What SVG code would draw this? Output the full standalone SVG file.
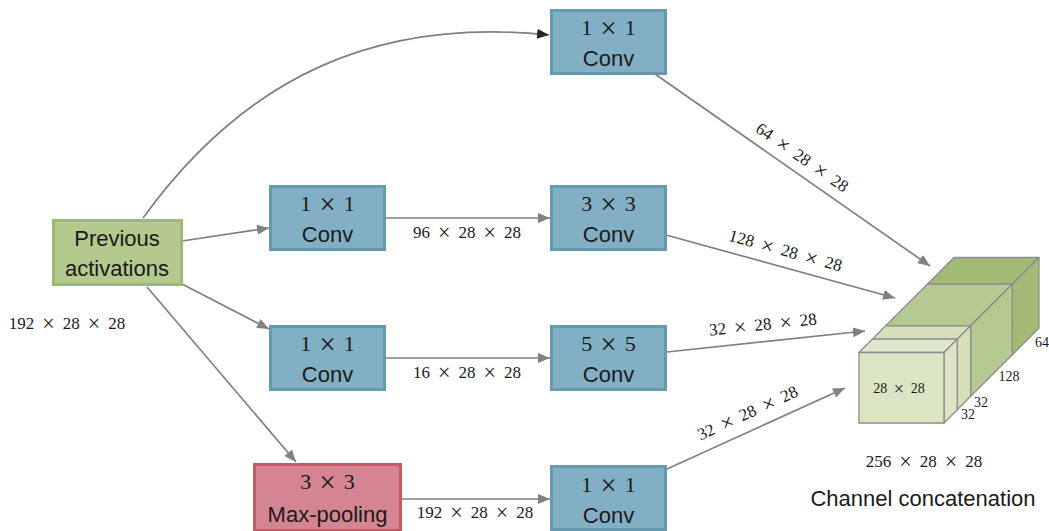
<svg xmlns="http://www.w3.org/2000/svg" width="1049" height="531" viewBox="0 0 1049 531">
  <defs>
    <marker id="head" markerUnits="userSpaceOnUse" markerWidth="13" markerHeight="11" refX="12" refY="5" orient="auto">
      <path d="M0,0 L12,5 L0,10 z" fill="#808080"/>
    </marker>
    <marker id="head-dark" markerUnits="userSpaceOnUse" markerWidth="13" markerHeight="11" refX="12" refY="5" orient="auto">
      <path d="M0,0 L12,5 L0,10 z" fill="#262626"/>
    </marker>
    <style>
      .conv rect { fill: #82afc3; stroke: #6599ae; stroke-width: 3; }
      .pool rect { fill: #d4858f; stroke: #c55a68; stroke-width: 3; }
      .prev rect { fill: #b3c98e; stroke: #9dba72; stroke-width: 3; }
      .math { font-family: "Liberation Serif", "DejaVu Serif", serif; fill: #1a1a1a; }
      .sans { font-family: "Liberation Sans", "DejaVu Sans", sans-serif; fill: #1a1a1a; }
      .big { font-size: 22px; text-anchor: middle; }
      .op { word-spacing: 2.7px; }
      .dim { font-size: 17px; word-spacing: 3.8px; text-anchor: middle; }
      .small { font-size: 14px; }
      .x { font-size: 1.3em; baseline-shift: -0.11em; }
      .edge { fill: none; stroke: #808080; stroke-width: 1.7; marker-end: url(#head); }
      .cube polygon { stroke: #8c8c8c; stroke-width: 1.3; stroke-linejoin: round; }
    </style>
  </defs>

  <!-- connectors -->
  <g id="connectors">
    <path class="edge" d="M143,218 C245,77 376,17 549,35" style="marker-end:url(#head-dark)"/>
    <path class="edge" d="M182,241 L269,228"/>
    <path class="edge" d="M182,284 L269,329"/>
    <path class="edge" d="M147,287 L296,462"/>
    <path class="edge" d="M386,218 L550,218"/>
    <path class="edge" d="M386,358 L550,358"/>
    <path class="edge" d="M402,499 L550,499"/>
    <path class="edge" d="M655,74 L930,266"/>
    <path class="edge" d="M666,235 L895,298"/>
    <path class="edge" d="M667,352 L865,331"/>
    <path class="edge" d="M667,469 L845,388"/>

    <text class="math dim" x="467" y="238">96 <tspan class="x">×</tspan> 28 <tspan class="x">×</tspan> 28</text>
    <text class="math dim" x="467" y="378">16 <tspan class="x">×</tspan> 28 <tspan class="x">×</tspan> 28</text>
    <text class="math dim" x="475" y="518">192 <tspan class="x">×</tspan> 28 <tspan class="x">×</tspan> 28</text>
    <text class="math dim" transform="translate(799,162) rotate(34.8)">64 <tspan class="x">×</tspan> 28 <tspan class="x">×</tspan> 28</text>
    <text class="math dim" transform="translate(784,256) rotate(15.4)">128 <tspan class="x">×</tspan> 28 <tspan class="x">×</tspan> 28</text>
    <text class="math dim" transform="translate(763.5,330) rotate(-6.05)">32 <tspan class="x">×</tspan> 28 <tspan class="x">×</tspan> 28</text>
    <text class="math dim" transform="translate(750,418) rotate(-24.5)">32 <tspan class="x">×</tspan> 28 <tspan class="x">×</tspan> 28</text>
  </g>

  <!-- input -->
  <g id="prev" class="prev">
    <rect x="53.5" y="220.5" width="128" height="64"/>
    <text class="sans big" x="117" y="246">Previous</text>
    <text class="sans big" x="117" y="276">activations</text>
  </g>
  <text id="input-size" class="math dim" x="67" y="329">192 <tspan class="x">×</tspan> 28 <tspan class="x">×</tspan> 28</text>

  <!-- branch 1 -->
  <g id="conv1x1-a" class="conv">
    <rect x="551.5" y="10.5" width="114" height="63"/>
    <text class="math big op" x="608.5" y="35">1 <tspan class="x">×</tspan> 1</text>
    <text class="sans big" x="608.5" y="66">Conv</text>
  </g>

  <!-- branch 2 -->
  <g id="conv1x1-b" class="conv">
    <rect x="270.5" y="186.5" width="114" height="63"/>
    <text class="math big op" x="327.5" y="211">1 <tspan class="x">×</tspan> 1</text>
    <text class="sans big" x="327.5" y="242">Conv</text>
  </g>
  <g id="conv3x3" class="conv">
    <rect x="551.5" y="186.5" width="114" height="63"/>
    <text class="math big op" x="608.5" y="211">3 <tspan class="x">×</tspan> 3</text>
    <text class="sans big" x="608.5" y="242">Conv</text>
  </g>

  <!-- branch 3 -->
  <g id="conv1x1-c" class="conv">
    <rect x="270.5" y="326.5" width="114" height="63"/>
    <text class="math big op" x="327.5" y="351">1 <tspan class="x">×</tspan> 1</text>
    <text class="sans big" x="327.5" y="382">Conv</text>
  </g>
  <g id="conv5x5" class="conv">
    <rect x="551.5" y="326.5" width="114" height="63"/>
    <text class="math big op" x="608.5" y="351">5 <tspan class="x">×</tspan> 5</text>
    <text class="sans big" x="608.5" y="382">Conv</text>
  </g>

  <!-- branch 4 -->
  <g id="maxpool" class="pool">
    <rect x="254.5" y="464.5" width="146" height="66"/>
    <text class="math big op" x="327.5" y="489">3 <tspan class="x">×</tspan> 3</text>
    <text class="sans big" x="327.5" y="522">Max-pooling</text>
  </g>
  <g id="conv1x1-d" class="conv">
    <rect x="551.5" y="466.5" width="114" height="63"/>
    <text class="math big op" x="608.5" y="492">1 <tspan class="x">×</tspan> 1</text>
    <text class="sans big" x="608.5" y="523">Conv</text>
  </g>

  <!-- concatenated output volume: front face 859..944 x 352.5..423, depth along (1,-1) -->
  <g id="concat" class="cube">
    <!-- 64 slab, depth 68.3..95 -->
    <polygon fill="#a1bb77" points="927.3,284.2 1012.3,284.2 1039,257.5 954,257.5"/>
    <polygon fill="#a1bb77" points="1012.3,284.2 1039,257.5 1039,328 1012.3,354.7"/>
    <!-- 128 slab, depth 26.7..68.3 -->
    <polygon fill="#b5ca92" points="885.7,325.8 970.7,325.8 1012.3,284.2 927.3,284.2"/>
    <polygon fill="#b5ca92" points="970.7,325.8 1012.3,284.2 1012.3,354.7 970.7,396.3"/>
    <!-- 32 slab, depth 13.3..26.7 -->
    <polygon fill="#d5e0b9" points="872.3,339.2 957.3,339.2 970.7,325.8 885.7,325.8"/>
    <polygon fill="#d5e0b9" points="957.3,339.2 970.7,325.8 970.7,396.3 957.3,409.7"/>
    <!-- 32 slab, depth 0..13.3 -->
    <polygon fill="#e0e8cb" points="859,352.5 944,352.5 957.3,339.2 872.3,339.2"/>
    <polygon fill="#dce5c4" points="944,352.5 957.3,339.2 957.3,409.7 944,423"/>
    <polygon fill="#dce5c3" points="859,352.5 944,352.5 944,423 859,423"/>
    <text class="math small" x="899" y="393" text-anchor="middle" style="word-spacing:3px">28 <tspan class="x">×</tspan> 28</text>
    <text class="math small" x="968" y="419" text-anchor="middle">32</text>
    <text class="math small" x="981" y="407" text-anchor="middle">32</text>
    <text class="math small" x="1009" y="381" text-anchor="middle">128</text>
    <text class="math small" x="1042" y="347" text-anchor="middle">64</text>
  </g>
  <text id="out-size" class="math dim" x="924" y="467">256 <tspan class="x">×</tspan> 28 <tspan class="x">×</tspan> 28</text>
  <text id="out-label" class="sans big" x="923" y="506">Channel concatenation</text>
</svg>
